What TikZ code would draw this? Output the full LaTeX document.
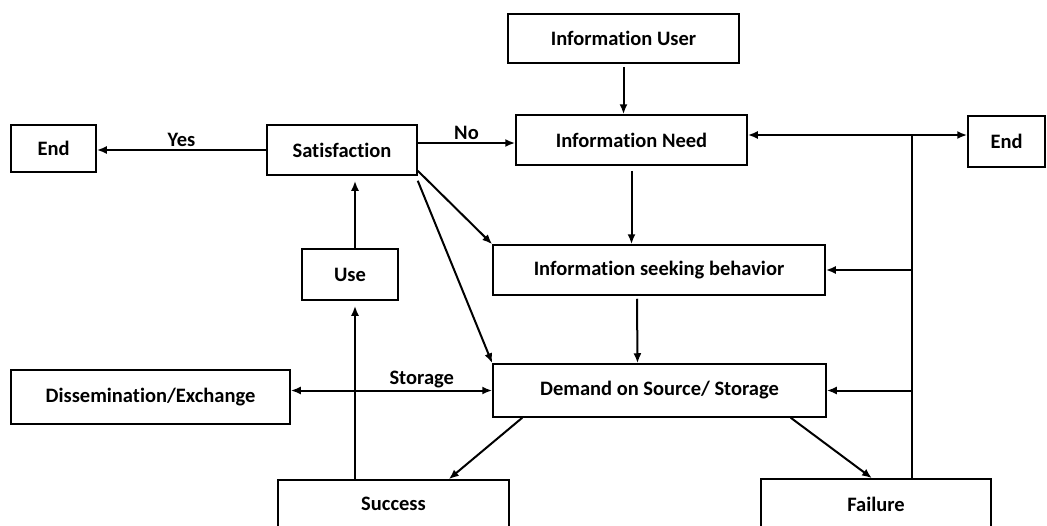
\documentclass[tikz,border=0pt]{standalone}
\usepackage{fontspec}
\setmainfont[Ligatures=NoCommon]{Carlito}
\usetikzlibrary{calc,arrows.meta}
\tikzset{
    flowbox/.style= {shape=rectangle, draw, line width=1.5pt, inner sep=0, fill=white, font=\fontsize{20.5}{24}\selectfont\bfseries},
    flowline/.style= {line width=2pt},
    flowarrow/.style= {-{Latex[length=10pt,width=8pt]}, line width=2pt},
    flowlabel/.style= {font=\fontsize{20.5}{24}\selectfont\bfseries, inner sep=2pt}
}

\begin{document}
\begin{tikzpicture}[x=1pt, y=-1pt]
    \clip (0,0) rectangle (1047,525);
    \node[flowbox, minimum width=231pt, minimum height=49pt]
        (user) at (623.5,38.5) {Information User};
    \node[flowbox, minimum width=231pt, minimum height=50pt]
        (need) at (631.5,140) {Information Need};
    \node[flowbox, minimum width=77pt, minimum height=51pt]
        (endR) at (1006.5,141.5) {End};
    \node[flowbox, minimum width=85pt, minimum height=47pt]
        (endL) at (53.5,148.5) {End};
    \node[flowbox, minimum width=150pt, minimum height=50pt]
        (sat) at (342,150) {Satisfaction};
    \node[flowbox, minimum width=96pt, minimum height=51pt]
        (use) at (350,274.5) {Use};
    \node[flowbox, minimum width=332pt, minimum height=50pt]
        (seek) at (659,270) {Information seeking behavior};
    \node[flowbox, minimum width=333pt, minimum height=53pt]
        (dem) at (659.5,390.5) {Demand on Source/ Storage};
    \node[flowbox, minimum width=279pt, minimum height=54pt]
        (diss) at (150.5,397) {Dissemination/Exchange\hspace{20pt}};
    \node[flowbox, minimum width=231pt, minimum height=48pt]
        (succ) at (393.5,504) {Success};
    \node[flowbox, minimum width=230pt, minimum height=50pt]
        (fail) at (876,504) {Failure};

    % top of the chain
    \draw[flowarrow] ([yshift=-3pt]user.south) -- (user.south |- need.north);
    \draw[flowarrow] ([yshift=7pt]sat.east) -- node[flowlabel, above] {No} ([yshift=7pt]sat.east -| need.west);
    \draw[flowarrow] (sat.west) -- node[flowlabel, above] {Yes} (sat.west -| endL.east);
    \draw[flowarrow] ([yshift=-5pt]need.south) -- (need.south |- seek.north);
    \draw[flowarrow] ([yshift=5pt]sat.south east) -- (seek.north west);
    \draw[flowarrow] ([yshift=-5pt]sat.south east) -- (dem.north west);
    \draw[flowarrow] ([xshift=-22pt,yshift=-3pt]seek.south) -- ([xshift=-22pt]dem.north);

    % use and success
    \draw[flowarrow, shorten >=5pt] ([xshift=5pt]use.north) -- ([xshift=5pt]use.north |- sat.south);
    \draw[flowarrow, shorten >=5pt] ([xshift=5pt]use.south |- succ.north) -- ([xshift=5pt]use.south);
    \draw[flowarrow, {Latex[length=10pt,width=8pt]}-{Latex[length=10pt,width=8pt]}] (dem.west -| diss.east) -- node[flowlabel, above, pos=0.65] {Storage} (dem.west);
    \draw[flowarrow] ([xshift=30pt]dem.south west) -- ([xshift=-61pt]succ.north east);
    \draw[flowarrow] ([xshift=-36pt]dem.south east) -- ([xshift=-4pt]fail.north);

    % feedback from failure
    \coordinate (fbbot) at ([xshift=36pt]fail.north);
    \coordinate (fbtop) at ($(fbbot |- need.east)+(0,-5)$);
    \draw[flowline] (fbbot) -- (fbtop);
    \draw[flowarrow] (fbtop) -- (fbtop -| need.east);
    \draw[flowarrow] (fbtop) -- (fbtop -| endR.west);
    \draw[flowarrow] (fbbot |- seek.east) -- (seek.east);
    \draw[flowarrow] (fbbot |- dem.east) -- (dem.east);
\end{tikzpicture}
\end{document}
